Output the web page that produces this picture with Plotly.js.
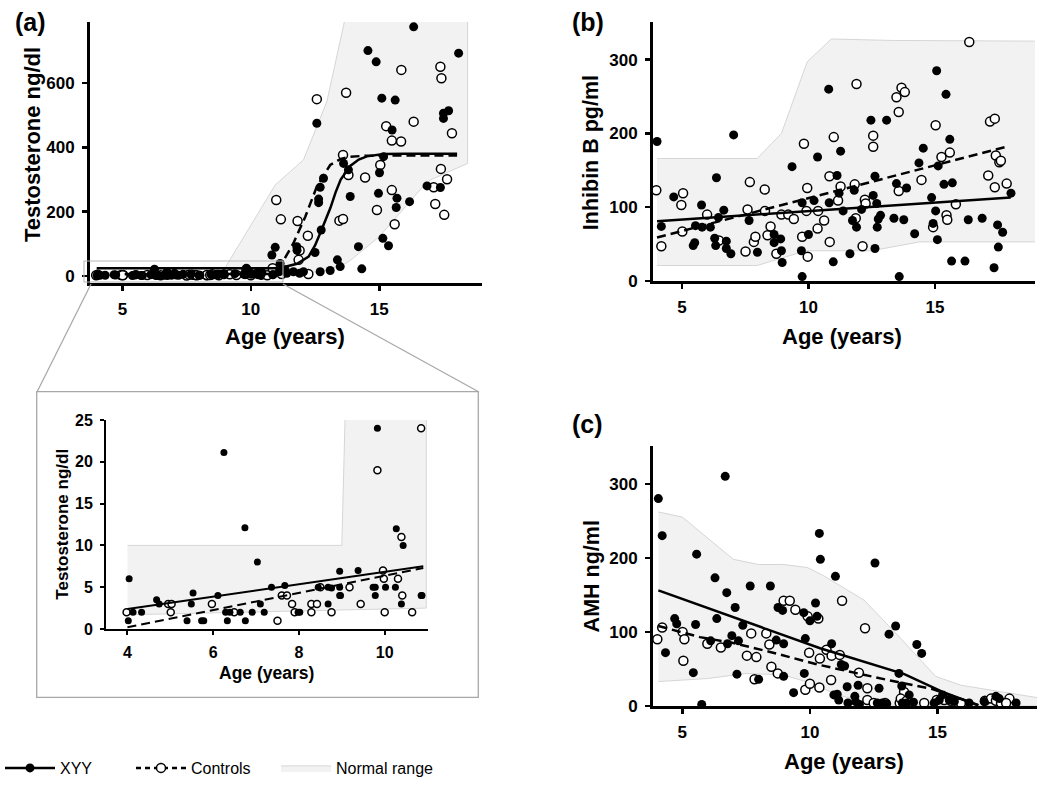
<!DOCTYPE html>
<html>
<head>
<meta charset="utf-8">
<script src="https://cdn.plot.ly/plotly-3.0.1.min.js"></script>
<style>html,body{margin:0;padding:0;background:#fff;}#chart{width:1050px;height:789px;}</style>
</head>
<body>
<div id="chart"></div>
<script>
// ---------------- Inset (testosterone, ages 4-11) ----------------
const insetXyyAge = [4.04,4.02,4.13,4.33,4.68,4.74,5.39,5.49,5.53,5.73,5.78,6.11,6.25,6.29,6.39,6.33,6.63,6.74,6.75,6.91,7.03,7.10,7.19,7.36,7.67,7.98,8.02,8.45,8.68,8.68,8.76,8.95,8.95,8.95,8.97,9.38,9.73,9.78,9.78,9.83,10.02,10.25,10.27,10.39,10.43,10.85,10.87];
const insetXyyVal = [6,1,2,2,3.5,3,1,3,4.3,1,1,4,21.1,2,2,1,2,12.1,1,2,8,3,2,5,5.2,2,2,5,3,5,4.9,6.9,5,4,4,7,5,4,5,24,5,5,12,3,10,4,4];
const insetCtrlAge = [3.98,4.95,5.03,5.01,5.97,6.49,7.5,7.6,7.72,7.84,7.9,8.29,8.29,8.42,8.5,8.76,9.18,9.44,9.83,9.96,9.98,10.0,10.31,10.39,10.41,10.64,10.85];
const insetCtrlVal = [2,3,3,2,3,2,1,4,4,3,2,2,3,3,5,2,5,3,19,7,6,2,6,11,4,2,24];
const insetXyyFitAge = [4, 10.9];
const insetXyyFitVal = [2.4, 7.5];
const insetCtrlFitAge = [4, 10.9];
const insetCtrlFitVal = [0.2, 7.3];
const insetRangeUpAge = [4, 9, 9.08, 10.97];
const insetRangeUpVal = [10, 10, 26, 26];
const insetRangeLoAge = [10.97, 4];
const insetRangeLoVal = [2.5, 1.7];

// ---------------- (a) Testosterone, high values ----------------
const testXyyHiAge = [10.82,10.95,11.14,11.1,11.34,11.4,11.66,11.79,11.8,11.9,12.05,12.5,12.74,12.64,12.64,12.7,12.83,12.57,12.7,13.09,13.37,13.48,13.61,13.8,13.87,14.19,14.32,14.56,14.88,14.97,15.01,15.1,15.14,15.17,15.36,15.5,15.62,15.66,15.69,16.18,16.34,16.86,17.38,17.5,17.5,17.7,18.09];
const testXyyHiVal = [65,89,39,13,19,8,13,91,80,8,13,73,143,228,239,276,304,475,13,17,50,29,350,330,247,91,22,701,666,257,321,553,117,371,94,454,547,213,242,231,775,280,275,490,506,514,693];
const testCtrlHiAge = [10.99,11.17,11.2,11.82,11.86,11.9,12.22,12.24,12.57,13.45,13.59,13.59,13.71,13.8,14.45,14.91,15.04,15.27,15.49,15.49,15.6,15.85,15.86,16.34,17.12,17.18,17.38,17.42,17.4,17.53,17.64,17.83];
const testCtrlHiVal = [236,176,6,171,50,79,125,6,550,172,177,376,570,314,306,205,345,466,421,267,161,418,641,480,276,224,651,615,333,190,301,444];
const testXyyFitAge = [4,10.9,11.3,11.8,12.25,12.5,12.7,12.9,13.1,13.3,13.5,13.87,14.2,14.52,15.17,16,18.03];
const testXyyFitVal = [24,24,28,38,60,95,133,172,212,260,300,342,362,372,379,380,380];
const testCtrlFitAge = [4,10.8,11.0,11.21,11.66,12.12,12.57,13.09,13.5,13.87,14.5,18.03];
const testCtrlFitVal = [5,6,16,39,102,184,278,345,364,371,374,375];
const testRangeUpAge = [4,8.9,10.95,12.05,12.96,13.75,18.44];
const testRangeUpVal = [10,12,283,361,542,830,830];
const testRangeLoAge = [18.44,17.0,16.7,15.0,14.3,13.9,13.5,12.6,11,4];
const testRangeLoVal = [350,299,278,122,76,50,29,13,4,2];

// ---------------- (b) Inhibin B ----------------
const inhXyyAge = [4.01,4.18,4.67,5.44,5.5,5.53,5.77,5.79,6.12,6.29,6.33,6.36,6.44,6.65,6.75,6.75,6.93,7.04,7.65,7.98,8.64,8.64,8.9,8.93,8.96,9.35,9.75,9.72,9.75,10.0,10.22,10.36,10.8,10.82,10.98,11.13,11.21,11.27,11.37,11.64,11.74,11.81,11.9,12.1,12.47,12.56,12.63,12.63,12.7,12.72,12.76,12.85,13.09,13.38,13.48,13.59,13.77,13.88,14.2,14.37,14.54,14.87,14.93,15.03,15.07,15.13,15.1,15.36,15.44,15.59,15.69,15.66,16.19,16.32,16.87,17.34,17.48,17.51,17.68,18.01];
const inhXyyVal = [189,74,114,48,52,75,103,73,73,58,48,140,86,96,54,44,37,198,82,39,63,52,57,41,25,155,106,41,6,63,109,168,260,106,26,143,119,176,95,37,82,123,73,97,218,116,142,44,105,73,84,89,218,85,132,6,83,126,64,160,180,113,78,95,285,156,56,131,253,192,133,27,27,83,85,18,76,46,66,119];
const inhCtrlAge = [3.98,4.18,4.97,5.04,5.01,5.99,6.46,7.51,7.59,7.68,7.84,7.9,8.27,8.28,8.38,8.5,8.73,8.93,9.2,9.42,9.75,9.82,9.95,9.97,9.92,10.36,10.38,10.62,10.84,10.83,11.0,11.17,11.27,11.87,11.9,11.83,12.14,12.23,12.26,12.56,12.56,13.48,13.57,13.68,13.81,13.57,14.47,14.93,15.03,15.26,15.46,15.49,15.59,15.83,16.36,17.11,17.18,17.37,17.37,17.41,17.55,17.61,17.84];
const inhCtrlVal = [123,47,103,119,67,90,55,40,97,134,53,60,124,95,62,74,37,90,90,84,60,186,126,33,95,71,95,82,53,142,195,109,128,85,267,131,47,110,105,197,182,249,229,262,256,122,137,73,211,168,89,83,174,104,324,143,216,220,127,170,161,163,132];
const inhXyyFitAge = [4.01, 18.0];
const inhXyyFitVal = [81, 113];
const inhCtrlFitAge = [4.01, 17.84];
const inhCtrlFitVal = [59, 182];
const inhRangeUpAge = [4.01,7.97,8.93,9.95,10.9,13.3,19.5];
const inhRangeUpVal = [166,166,200,297,328,326,325];
const inhRangeLoAge = [19.5,14.4,12.5,9.9,7.97,4.01];
const inhRangeLoVal = [53,53,41,41,21,21];

// ---------------- (c) AMH ----------------
const amhXyyAge = [4.06,4.21,4.34,4.7,4.78,5.43,5.52,5.56,5.76,6.11,6.28,6.35,6.68,6.74,6.77,6.94,7.07,7.14,7.2,7.37,7.66,7.99,8.45,8.68,8.75,8.93,8.97,8.97,9.36,9.76,9.82,9.78,10.0,10.22,10.28,10.37,10.41,10.85,11.0,10.94,11.07,11.13,11.23,11.36,11.46,11.49,11.76,11.89,11.79,12.55,12.71,12.64,12.84,13.1,13.36,13.49,13.6,13.62,13.89,13.79,14.19,14.38,14.87,15.07,15.2,15.46,15.66,16.24,16.83,17.29,17.42,18.08,11.94,12.75,13.01,13.73,14.06];
const amhXyyVal = [280,230,72,118,111,45,110,205,2,88,173,118,310,153,84,95,133,43,88,109,162,36,162,89,133,129,84,40,18,126,91,44,115,139,121,233,198,84,175,15,16,8,56,54,26,4,13,28,6,193,24,4,4,97,108,44,27,4,15,4,83,71,4,8,15,8,6,4,6,13,10,4,2,2,3,2,5];
const amhCtrlAge = [4.02,4.21,5.01,5.08,5.04,5.98,6.51,7.53,7.7,7.83,7.9,8.29,8.41,8.49,8.74,8.97,9.21,9.43,9.82,9.91,9.97,10.0,10.33,10.39,10.37,10.65,10.85,10.83,11.17,11.26,11.92,12.16,12.25,12.25,13.52,13.69,13.56,13.79,14.48,14.97,15.26,15.52,15.92,16.86,17.1,17.29,17.49,17.82,17.69,12.5,12.95];
const amhCtrlVal = [90,106,100,90,61,84,79,68,98,36,66,98,83,53,44,142,142,130,22,121,72,30,118,64,25,76,68,35,69,142,45,105,24,8,4,19,10,7,4,8,8,7,4,7,10,7,4,10,4,4,4];
const amhXyyFitAge = [4.06,10.4,13.7,15.2,16.6];
const amhXyyFitVal = [156,78,43,19,1];
const amhCtrlFitAge = [4.06,5.69,7.0,8.44,10.3,11.6,13.2,14.8,16.0,16.6];
const amhCtrlFitVal = [108,93,85,73,56,46,34,23,9,1];
const amhRangeUpAge = [4.06,5,7.0,7.99,8.97,9.89,10.48,12.12,13.43,14.93,15.92,19.5];
const amhRangeUpVal = [262,255,198,191,191,187,177,143,96,40,28,8];
const amhRangeLoAge = [19.5,13.03,12.12,11.07,10.02,8.97,7.53,5.96,4.06];
const amhRangeLoVal = [0,1,6,15,31,42,44,37,33];

const legendNames = ['XYY', 'Controls', 'Normal range'];

// ---------------- build ----------------
const FONT = 'Liberation Sans, Arial, sans-serif';
const W = 1050, H = 789;
const px = v => v / W;
const py = v => 1 - v / H;

function rangeTrace(upA, upV, loA, loV, xa, ya, legend) {
  return {
    type: 'scatter', mode: 'lines', x: upA.concat(loA), y: upV.concat(loV),
    fill: 'toself', fillcolor: '#f2f2f2', line: {color: '#d6d6d6', width: 1},
    xaxis: xa, yaxis: ya, hoverinfo: 'skip',
    name: legendNames[2], showlegend: !!legend, legend: 'legend2'
  };
}
function fitTrace(a, v, xa, ya, dashed, w) {
  return {
    type: 'scatter', mode: 'lines', x: a, y: v, xaxis: xa, yaxis: ya,
    line: {color: '#000', width: w || 2.5, dash: dashed ? '9px,5px' : 'solid'},
    showlegend: false, hoverinfo: 'skip'
  };
}
function ptsTrace(a, v, xa, ya, open, size) {
  return {
    type: 'scatter', mode: 'markers', x: a, y: v, xaxis: xa, yaxis: ya,
    cliponaxis: false,
    marker: open ? {symbol: 'circle', size: size, color: '#fff', line: {color: '#000', width: 1.5}}
                 : {symbol: 'circle', size: size, color: '#000', line: {width: 0}},
    showlegend: false, hoverinfo: 'skip'
  };
}

const testXyyAge = insetXyyAge.concat(testXyyHiAge);
const testXyyVal = insetXyyVal.concat(testXyyHiVal);
const testCtrlAge = insetCtrlAge.concat(testCtrlHiAge);
const testCtrlVal = insetCtrlVal.concat(testCtrlHiVal);

const traces = [
  // (a)
  rangeTrace(testRangeUpAge, testRangeUpVal, testRangeLoAge, testRangeLoVal, 'x', 'y', true),
  ptsTrace(testCtrlAge, testCtrlVal, 'x', 'y', true, 9),
  ptsTrace(testXyyAge, testXyyVal, 'x', 'y', false, 9),
  fitTrace(testCtrlFitAge, testCtrlFitVal, 'x', 'y', true),
  fitTrace(testXyyFitAge, testXyyFitVal, 'x', 'y', false),
  // (b)
  rangeTrace(inhRangeUpAge, inhRangeUpVal, inhRangeLoAge, inhRangeLoVal, 'x2', 'y2'),
  ptsTrace(inhCtrlAge, inhCtrlVal, 'x2', 'y2', true, 9),
  ptsTrace(inhXyyAge, inhXyyVal, 'x2', 'y2', false, 9),
  fitTrace(inhCtrlFitAge, inhCtrlFitVal, 'x2', 'y2', true),
  fitTrace(inhXyyFitAge, inhXyyFitVal, 'x2', 'y2', false),
  // (c)
  rangeTrace(amhRangeUpAge, amhRangeUpVal, amhRangeLoAge, amhRangeLoVal, 'x3', 'y3'),
  ptsTrace(amhCtrlAge, amhCtrlVal, 'x3', 'y3', true, 9),
  ptsTrace(amhXyyAge, amhXyyVal, 'x3', 'y3', false, 9),
  fitTrace(amhCtrlFitAge, amhCtrlFitVal, 'x3', 'y3', true),
  fitTrace(amhXyyFitAge, amhXyyFitVal, 'x3', 'y3', false),
  // inset
  rangeTrace(insetRangeUpAge, insetRangeUpVal, insetRangeLoAge, insetRangeLoVal, 'x4', 'y4'),
  ptsTrace(insetCtrlAge, insetCtrlVal, 'x4', 'y4', true, 7),
  ptsTrace(insetXyyAge, insetXyyVal, 'x4', 'y4', false, 7),
  fitTrace(insetCtrlFitAge, insetCtrlFitVal, 'x4', 'y4', true, 2),
  fitTrace(insetXyyFitAge, insetXyyFitVal, 'x4', 'y4', false, 2),
  // legend-only entries
  {type: 'scatter', mode: 'lines+markers', x: [null], y: [null], xaxis: 'x', yaxis: 'y',
   name: legendNames[0], legend: 'legend',
   line: {color: '#000', width: 2.5}, marker: {symbol: 'circle', size: 9, color: '#000'}},
  {type: 'scatter', mode: 'lines+markers', x: [null], y: [null], xaxis: 'x', yaxis: 'y',
   name: legendNames[1], legend: 'legend',
   line: {color: '#000', width: 2.5, dash: '5px,4px'},
   marker: {symbol: 'circle', size: 9, color: '#fff', line: {color: '#000', width: 1.5}}}
];

function axisBase(extra) {
  return Object.assign({
    showline: true, linecolor: '#000', linewidth: 3,
    ticks: 'outside', ticklen: 5, tickwidth: 2.5, tickcolor: '#000',
    showgrid: false, zeroline: false, fixedrange: true,
    tickfont: {family: FONT, size: 17, color: '#000', weight: 'bold'},
    ticklabelstandoff: 4
  }, extra);
}
const insetTickFont = {family: FONT, size: 16, color: '#000', weight: 'bold'};
const legendFont = {family: FONT, size: 16, color: '#000'};

const layout = {
  width: W, height: H,
  margin: {l: 0, r: 0, t: 0, b: 0},
  paper_bgcolor: '#fff', plot_bgcolor: 'rgba(0,0,0,0)',
  font: {family: FONT, color: '#000'},
  showlegend: true,
  legend: {orientation: 'h', x: 0.0, xanchor: 'left', y: py(768), yanchor: 'middle',
           font: legendFont, bgcolor: 'rgba(0,0,0,0)', traceorder: 'normal',
           itemwidth: 50, entrywidth: 66, entrywidthmode: 'pixels',
           itemclick: false, itemdoubleclick: false},
  legend2: {orientation: 'h', x: px(276), xanchor: 'left', y: py(768), yanchor: 'middle',
           font: legendFont, bgcolor: 'rgba(0,0,0,0)',
           itemwidth: 50, itemclick: false, itemdoubleclick: false},
  xaxis: axisBase({domain: [px(90), px(482)], range: [3.74, 19.0], tickvals: [5, 10, 15], anchor: 'y'}),
  yaxis: axisBase({domain: [py(283), py(22)], range: [-22, 790], tickvals: [0, 200, 400, 600], anchor: 'x'}),
  xaxis2: axisBase({domain: [px(653), px(1035)], range: [3.85, 18.96], tickvals: [5, 10, 15], anchor: 'y2'}),
  yaxis2: axisBase({domain: [py(281), py(22)], range: [0, 351], tickvals: [0, 100, 200, 300], anchor: 'x2'}),
  xaxis3: axisBase({domain: [px(653), px(1037)], range: [3.85, 18.9], tickvals: [5, 10, 15], anchor: 'y3'}),
  yaxis3: axisBase({domain: [py(706), py(446)], range: [0, 351], tickvals: [0, 100, 200, 300], anchor: 'x3'}),
  xaxis4: axisBase({domain: [px(106), px(428)], range: [3.5, 11.01], tickvals: [4, 6, 8, 10], anchor: 'y4',
                    linewidth: 2, tickwidth: 2, ticklen: 4, tickfont: insetTickFont}),
  yaxis4: axisBase({domain: [py(629), py(420)], range: [0, 25], tickvals: [0, 5, 10, 15, 20, 25], anchor: 'x4',
                    linewidth: 2, tickwidth: 2, ticklen: 4, tickfont: insetTickFont}),
  shapes: [
    {type: 'rect', xref: 'paper', yref: 'paper', x0: px(36.7), x1: px(478.3), y0: py(697.3), y1: py(391.7),
     line: {color: '#a8a8a8', width: 1.3}, fillcolor: 'rgba(0,0,0,0)'},
    {type: 'rect', xref: 'paper', yref: 'paper', x0: px(84), x1: px(283), y0: py(282), y1: py(261),
     line: {color: '#b8b8b8', width: 1.1}, fillcolor: 'rgba(0,0,0,0)'},
    {type: 'line', xref: 'paper', yref: 'paper', x0: px(91), y0: py(284), x1: px(37), y1: py(392),
     line: {color: '#a8a8a8', width: 1.2}},
    {type: 'line', xref: 'paper', yref: 'paper', x0: px(283), y0: py(284), x1: px(479), y1: py(392),
     line: {color: '#a8a8a8', width: 1.2}}
  ],
  annotations: []
};

function ann(text, x, y, size, angle) {
  layout.annotations.push({text: '<b>' + text + '</b>', xref: 'paper', yref: 'paper',
    x: px(x), y: py(y), xanchor: 'center', yanchor: 'middle', showarrow: false,
    textangle: angle || 0, font: {family: FONT, size: size, color: '#000'}});
}
ann('(a)', 30, 22, 25);
ann('(b)', 588, 22, 25);
ann('(c)', 587.5, 424, 25);
ann('Testosterone ng/dl', 32, 145, 22, -90);
ann('Age (years)', 285, 336, 22);
ann('Inhibin B pg/ml', 591.7, 152.5, 21.5, -90);
ann('Age (years)', 842.3, 336, 22);
ann('AMH ng/ml', 591.7, 576.7, 21.5, -90);
ann('Age (years)', 844, 761.7, 22);
ann('Testosterone ng/dl', 61.7, 524, 17, -90);
ann('Age (years)', 266.7, 673.3, 17.5);

Plotly.newPlot('chart', traces, layout, {displayModeBar: false, staticPlot: true});
</script>
</body>
</html>
